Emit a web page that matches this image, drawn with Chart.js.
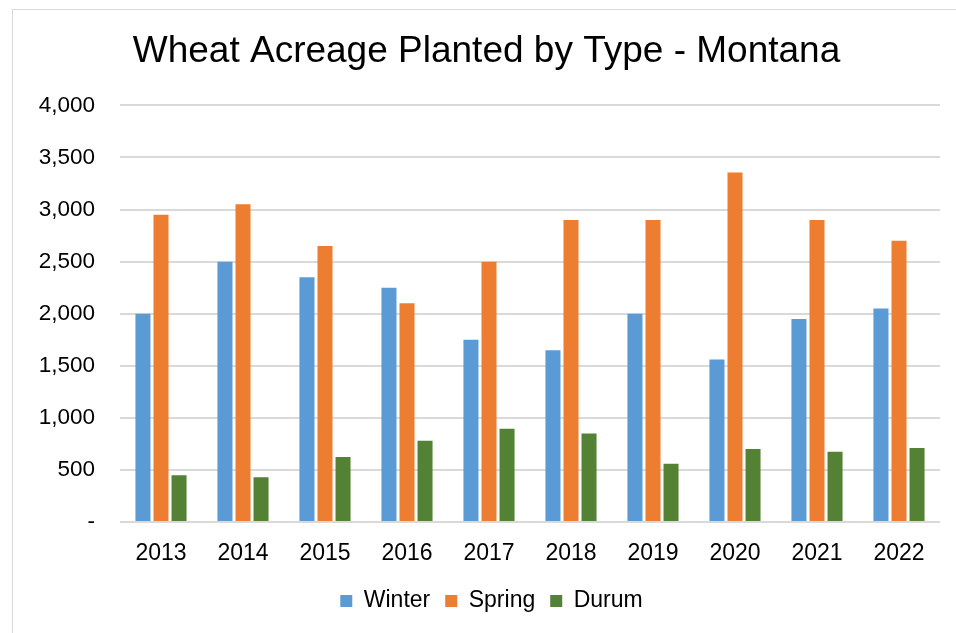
<!DOCTYPE html>
<html>
<head>
<meta charset="utf-8">
<script src="https://cdn.jsdelivr.net/npm/chart.js@4"></script>
<style>
  html, body { margin: 0; padding: 0; background: #ffffff; }
  #wrap { position: relative; width: 956px; height: 633px; overflow: hidden; }
  #frame { position: absolute; left: 12px; top: 9px; width: 1000px; height: 700px; border: 1.5px solid #d9d9d9; box-sizing: border-box; }
  #c { position: absolute; left: 0; top: 0; }
</style>
</head>
<body>
<div id="wrap">
  <div id="frame"></div>
  <canvas id="c" width="956" height="633"></canvas>
</div>
<script>
const years = ['2013','2014','2015','2016','2017','2018','2019','2020','2021','2022'];
const winter = [2000, 2500, 2350, 2250, 1750, 1650, 2000, 1560, 1950, 2050];
const spring = [2950, 3050, 2650, 2100, 2500, 2900, 2900, 3355, 2900, 2700];
const durum  = [450, 430, 625, 780, 895, 850, 560, 700, 675, 710];
const yTicks = [0, 500, 1000, 1500, 2000, 2500, 3000, 3500, 4000];

const FONT = "'Liberation Sans', Arial, sans-serif";
Chart.defaults.font.family = FONT;
Chart.defaults.color = '#000000';

const legendShift = {
  id: 'legendShift',
  afterLayout(chart) {
    if (chart.legend) { chart.legend.left += 5; chart.legend.right += 5; }
  }
};

new Chart(document.getElementById('c'), {
  type: 'bar',
  data: {
    labels: years,
    datasets: [
      { label: 'Winter', data: winter, backgroundColor: '#5B9BD5' },
      { label: 'Spring', data: spring, backgroundColor: '#ED7D31' },
      { label: 'Durum',  data: durum,  backgroundColor: '#548235' }
    ]
  },
  plugins: [legendShift],
  options: {
    responsive: false,
    animation: false,
    devicePixelRatio: 1,
    datasets: { bar: { categoryPercentage: 0.66, barPercentage: 0.833 } },
    layout: { padding: { left: 33, right: 16, top: 0, bottom: 10.5 } },
    plugins: {
      title: {
        display: true,
        text: 'Wheat Acreage Planted by Type - Montana',
        color: '#000000',
        font: { size: 37, weight: 'normal', family: FONT },
        padding: { top: 30, bottom: 31 }
      },
      legend: {
        position: 'bottom',
        labels: {
          boxWidth: 12, boxHeight: 12,
          color: '#000000',
          font: { size: 23, family: FONT },
          padding: 15
        }
      },
      tooltip: { enabled: false }
    },
    scales: {
      x: {
        grid: { display: false, drawTicks: false },
        border: { display: false },
        ticks: { color: '#000000', font: { size: 23 }, padding: 18 },
        afterFit: s => { s.height = 52.5; }
      },
      y: {
        min: 0, max: 4000,
        afterBuildTicks: s => { s.ticks = yTicks.map(v => ({ value: v })); },
        grid: { color: '#d9d9d9', lineWidth: 2, drawTicks: false },
        border: { display: false },
        ticks: {
          color: '#000000', font: { size: 22.5 }, padding: 25,
          callback: v => v === 0 ? '-' : v.toLocaleString('en-US')
        },
        afterFit: s => { s.width = 87; }
      }
    }
  }
});
</script>
</body>
</html>
